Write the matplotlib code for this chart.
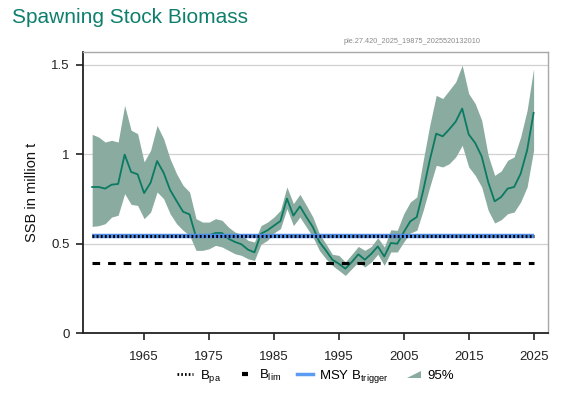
import matplotlib
matplotlib.use("Agg")
import matplotlib.pyplot as plt
from matplotlib.lines import Line2D
from matplotlib.patches import Polygon
from matplotlib.legend_handler import HandlerPatch

plt.rcParams['font.family'] = ['Liberation Sans', 'DejaVu Sans']
plt.rcParams['mathtext.fontset'] = 'custom'
plt.rcParams['mathtext.rm'] = 'Liberation Sans'
plt.rcParams['mathtext.it'] = 'Liberation Sans'

# assessment output, 1957-2025
years = list(range(1957, 2026))
ssb = [0.816, 0.816, 0.807, 0.829, 0.833, 0.997, 0.900, 0.887, 0.782, 0.840,
       0.961, 0.896, 0.800, 0.738, 0.678, 0.663, 0.537, 0.537, 0.546, 0.559,
       0.559, 0.527, 0.509, 0.496, 0.466, 0.451, 0.555, 0.574, 0.600, 0.626,
       0.751, 0.656, 0.708, 0.648, 0.592, 0.509, 0.462, 0.410, 0.387, 0.360,
       0.397, 0.440, 0.410, 0.443, 0.484, 0.428, 0.503, 0.499, 0.564, 0.624,
       0.648, 0.797, 0.965, 1.114, 1.099, 1.138, 1.181, 1.254, 1.110, 1.062,
       0.987, 0.844, 0.736, 0.760, 0.807, 0.816, 0.890, 1.021, 1.230]
ssb_high = [1.110, 1.095, 1.067, 1.077, 1.067, 1.272, 1.133, 1.114, 0.956, 1.021,
            1.160, 1.086, 0.974, 0.890, 0.825, 0.788, 0.639, 0.620, 0.620, 0.639,
            0.630, 0.592, 0.564, 0.551, 0.518, 0.509, 0.600, 0.620, 0.648, 0.686,
            0.816, 0.723, 0.775, 0.713, 0.648, 0.555, 0.499, 0.440, 0.434, 0.397,
            0.440, 0.484, 0.462, 0.484, 0.533, 0.481, 0.577, 0.574, 0.667, 0.732,
            0.760, 0.965, 1.160, 1.328, 1.310, 1.356, 1.403, 1.496, 1.338, 1.282,
            1.189, 0.993, 0.881, 0.905, 0.965, 0.984, 1.095, 1.244, 1.477]
ssb_low = [0.596, 0.600, 0.611, 0.648, 0.658, 0.779, 0.719, 0.713, 0.639, 0.676,
           0.788, 0.751, 0.667, 0.611, 0.574, 0.546, 0.462, 0.462, 0.471, 0.490,
           0.481, 0.462, 0.443, 0.434, 0.415, 0.406, 0.496, 0.518, 0.559, 0.583,
           0.695, 0.600, 0.648, 0.592, 0.537, 0.462, 0.415, 0.378, 0.350, 0.322,
           0.360, 0.397, 0.369, 0.397, 0.440, 0.378, 0.453, 0.453, 0.509, 0.559,
           0.574, 0.686, 0.816, 0.937, 0.928, 0.946, 0.984, 1.049, 0.928, 0.881,
           0.816, 0.686, 0.615, 0.633, 0.667, 0.676, 0.732, 0.816, 1.021]

b_pa = 0.545
b_lim = 0.39
msy_btrigger = 0.545

x_ticks = [1965, 1975, 1985, 1995, 2005, 2015, 2025]
y_ticks = [0, 0.5, 1, 1.5]
y_tick_labels = ["0", "0.5", "1", "1.5"]

line_col = "#0b7a62"
band_col = "#8aab9f"


class TriangleHandler(HandlerPatch):
    def create_artists(self, legend, orig_handle, xdescent, ydescent,
                       width, height, fontsize, trans):
        w = width * 0.85
        x0 = -xdescent + width - w
        y0 = -ydescent + height * 0.1
        p = Polygon([[x0, y0], [x0 + w, y0], [x0 + w, y0 + height * 0.75]],
                    closed=True, fc=band_col, ec="none")
        p.set_transform(trans)
        return [p]


fig = plt.figure(figsize=(5.81, 3.97), dpi=100)
ax = fig.add_axes([0.143, 0.161, 0.800, 0.708])

ax.fill_between(years, ssb_low, ssb_high, color=band_col, lw=0, zorder=2)
ax.plot(years, ssb, color=line_col, lw=1.3, zorder=4)

ax.plot([years[0], years[-1]], [msy_btrigger] * 2, color="#4f8fe8", lw=3.2, zorder=5,
        solid_capstyle="butt")
ax.plot([years[0], years[-1]], [b_pa] * 2, color="black", lw=2.2, zorder=6,
        linestyle=(0, (0.6, 0.75)))
ax.plot([years[0], years[-1]], [b_lim] * 2, color="black", lw=2.2, zorder=6,
        linestyle=(0, (2.5, 2.6)))

for yv in [0.5, 1, 1.5]:
    ax.axhline(yv, color="#d0d0d0", lw=0.9, zorder=1)

ax.set_xlim(1955.6, 2027.2)
ax.set_ylim(0, 1.57)
ax.set_xticks(x_ticks)
ax.set_xticklabels([str(v) for v in x_ticks])
ax.set_yticks(y_ticks)
ax.set_yticklabels(y_tick_labels)
ax.tick_params(axis="both", direction="out", length=5, width=1.2, labelsize=9.5, colors="#222222")
ax.tick_params(axis="x", pad=8)
ax.tick_params(axis="y", pad=4.5)

for side in ["top", "right"]:
    ax.spines[side].set_color("#a8a8a8")
    ax.spines[side].set_linewidth(1.0)
for side in ["left", "bottom"]:
    ax.spines[side].set_color("#222222")
    ax.spines[side].set_linewidth(1.3)

ax.set_ylabel("SSB in million t", fontsize=10.5, color="#111111", labelpad=9)

fig.text(0.02, 0.955, "Spawning Stock Biomass", fontsize=15, color="#0e7f6c",
         ha="left", va="center")
fig.text(0.827, 0.896, "ple.27.420_2025_19875_2025520132010", fontsize=5.3, color="#8a8a8a",
         ha="right", va="center")

handles = [
    Line2D([], [], color="black", lw=2, linestyle=(0, (0.6, 0.75))),
    Line2D([], [], color="black", lw=0, marker="_", markersize=5, markeredgewidth=3),
    Line2D([], [], color="#5b9cf2", lw=2.5),
    Polygon([[0, 0], [1, 0], [1, 1]], fc=band_col),
]
labels = [r"B$_{\mathrm{pa}}$", r"B$_{\mathrm{lim}}$", r"MSY B$_{\mathrm{trigger}}$", "95%"]
fig.legend(handles, labels, loc="center", bbox_to_anchor=(0.543, 0.052), ncol=4,
           frameon=False, fontsize=9.5, handlelength=1.2, handletextpad=0.5,
           columnspacing=1.2, handler_map={Polygon: TriangleHandler()})

fig.savefig("out.png", dpi=100)
